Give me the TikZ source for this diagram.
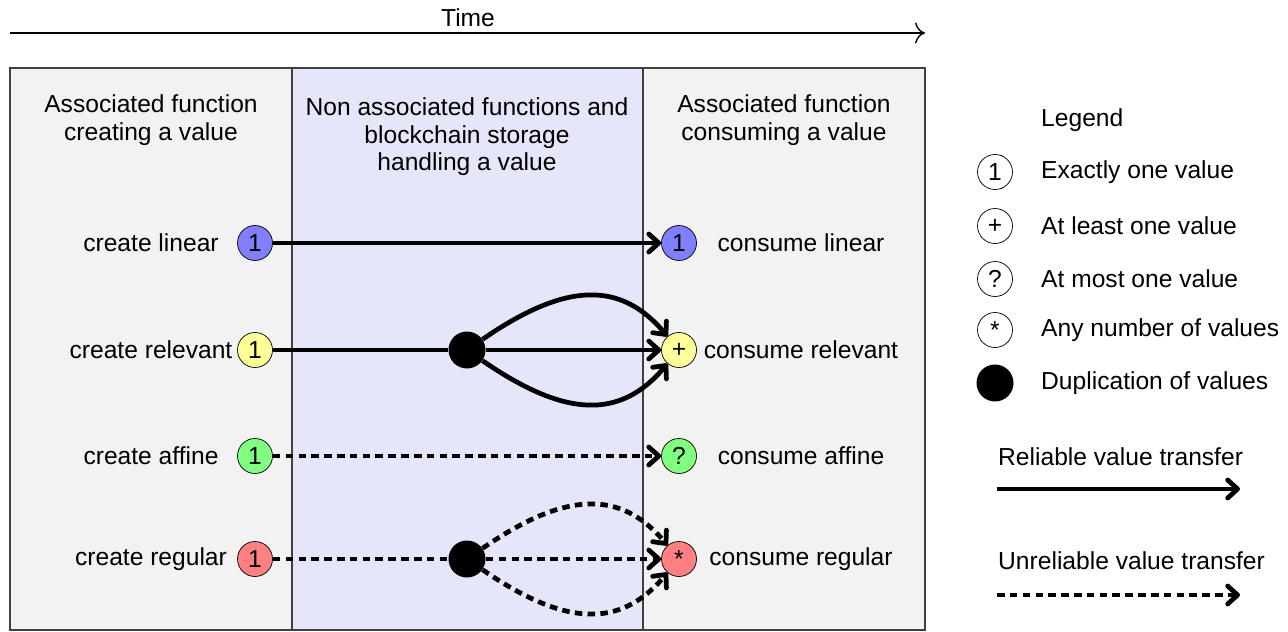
\documentclass[tikz,border=0pt]{standalone}
\usepackage{fontspec}
\setmainfont{Liberation Sans}
\usetikzlibrary{arrows.meta}
\definecolor{panelgray}{HTML}{F2F2F2}
\definecolor{panelblue}{HTML}{E6E6FA}
\definecolor{linblue}{HTML}{8080FF}
\definecolor{relyellow}{HTML}{FFFF99}
\definecolor{affgreen}{HTML}{80FF80}
\definecolor{regred}{HTML}{FF8080}
\begin{document}
\begin{tikzpicture}[
        font=\fontsize{14}{15.6}\selectfont,
        kind/.style={circle,draw,minimum size=0.7cm,inner sep=0pt},
        dup/.style={circle,fill=black,minimum size=0.74cm,inner sep=0pt},
        reliable/.style={line width=2.7pt,-{Straight Barb[length=2mm,width=3.6mm,round]}},
        unreliable/.style={reliable,dash pattern=on 4.3pt off 3pt},
        carry/.style={line width=2.7pt},
        carrydash/.style={carry,dash pattern=on 4.3pt off 3pt}
    ]
        \useasboundingbox (0,0) rectangle (25.76,-12.62);

        % time axis
        \node (time) at (9.36,-0.36) {Time};
        \coordinate (t0) at (0.2,-0.66);
        \coordinate (t1) at (18.5,-0.66);
        \draw[-{To[length=2mm]},line width=0.8pt] (t0)--(t1);

        % panels
        \fill[panelgray] (0.2,-1.36) rectangle (5.84,-12.6);
        \fill[panelblue] (5.84,-1.36) rectangle (12.86,-12.6);
        \fill[panelgray] (12.86,-1.36) rectangle (18.5,-12.6);
        \draw[black!75,line width=0.6pt] (0.2,-1.36) rectangle (18.5,-12.6);
        \draw[black!75,line width=0.6pt] (5.84,-1.36)--(5.84,-12.6);
        \draw[black!75,line width=0.6pt] (12.86,-1.36)--(12.86,-12.6);

        \node[align=center] (hcreate) at (3.02,-2.4) {Associated function\\creating a value};
        \node[align=center] (hother) at (9.34,-2.74) {Non associated functions and\\blockchain storage\\handling a value};
        \node[align=center] (hconsume) at (15.68,-2.4) {Associated function\\consuming a value};

        % create side
        \node (clin) at (3.02,-4.86) {create linear};
        \node (crel) at (3.02,-7.0) {create relevant};
        \node (caff) at (3.02,-9.12) {create affine};
        \node (creg) at (3.02,-11.18) {create regular};
        \node[kind,fill=linblue] (linl) at (5.1,-4.86) {1};
        \node[kind,fill=relyellow] (rell) at (5.1,-7.0) {1};
        \node[kind,fill=affgreen] (affl) at (5.1,-9.12) {1};
        \node[kind,fill=regred] (regl) at (5.1,-11.18) {1};

        % consume side
        \node[kind,fill=linblue] (linr) at (13.58,-4.86) {1};
        \node[kind,fill=relyellow] (relr) at (13.58,-7.0) {+};
        \node[kind,fill=affgreen] (affr) at (13.58,-9.12) {?};
        \node[kind,fill=regred] (regr) at (13.58,-11.18) {*};
        \node (olin) at (16.02,-4.86) {consume linear};
        \node (orel) at (16.02,-7.0) {consume relevant};
        \node (oaff) at (16.02,-9.12) {consume affine};
        \node (oreg) at (16.02,-11.18) {consume regular};

        % duplications
        \node[dup] (dup1) at (9.34,-7.0) {};
        \node[dup] (dup2) at (9.34,-11.18) {};

        \draw[reliable] (linl)--(linr);
        \draw[carry] (rell)--(dup1);
        \draw[reliable] (dup1)--(relr);
        \draw[reliable] (dup1) .. controls (11.3,-5.65) and (12.4,-5.6) .. (relr);
        \draw[reliable] (dup1) .. controls (11.3,-8.35) and (12.4,-8.4) .. (relr);
        \draw[unreliable] (affl)--(affr);
        \draw[carrydash] (regl)--(dup2);
        \draw[unreliable] (dup2)--(regr);
        \draw[unreliable] (dup2) .. controls (11.3,-9.83) and (12.4,-9.78) .. (regr);
        \draw[unreliable] (dup2) .. controls (11.3,-12.53) and (12.4,-12.58) .. (regr);

        % legend
        \node[anchor=west] (legend) at (20.7,-2.4) {Legend};
        \node[kind] (kone) at (19.9,-3.44) {1};
        \node[kind] (kplus) at (19.9,-4.52) {+};
        \node[kind] (kopt) at (19.9,-5.58) {?};
        \node[kind] (kany) at (19.9,-6.6) {*};
        \node[dup] (kdup) at (19.9,-7.66) {};
        \node[anchor=west] (tone) at (20.7,-3.44) {Exactly one value};
        \node[anchor=west] (tplus) at (20.7,-4.52) {At least one value};
        \node[anchor=west] (topt) at (20.7,-5.58) {At most one value};
        \node[anchor=west] (tany) at (20.7,-6.6) {Any number of values};
        \node[anchor=west] (tdup) at (20.7,-7.66) {Duplication of values};

        \node[anchor=west] (trel) at (19.84,-9.14) {Reliable value transfer};
        \coordinate (r0) at (19.94,-9.78);
        \coordinate (r1) at (24.8,-9.78);
        \draw[reliable] (r0)--(r1);
        \node[anchor=west] (tunrel) at (19.84,-11.22) {Unreliable value transfer};
        \coordinate (u0) at (19.94,-11.9);
        \coordinate (u1) at (24.8,-11.9);
        \draw[unreliable] (u0)--(u1);
    \end{tikzpicture}
\end{document}
